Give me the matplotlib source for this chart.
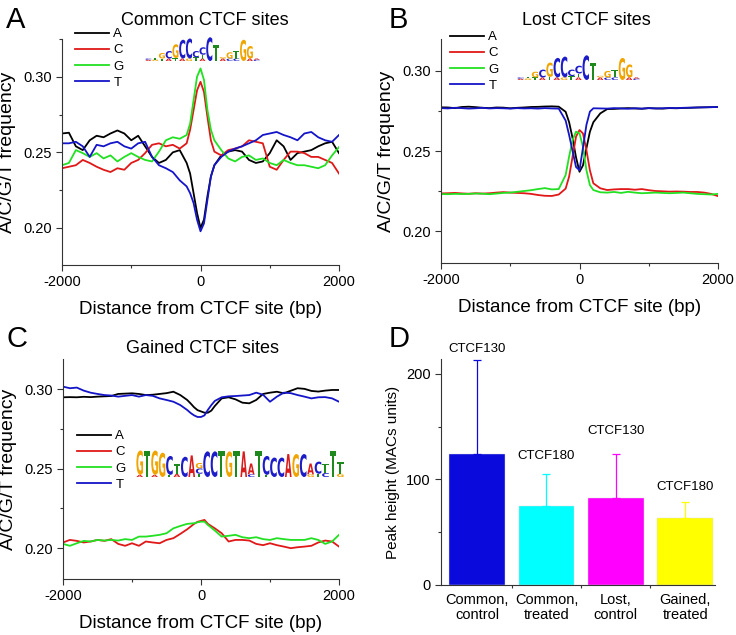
import matplotlib
matplotlib.use("Agg")
import matplotlib.pyplot as plt
from matplotlib.textpath import TextPath
from matplotlib.patches import PathPatch
from matplotlib.font_manager import FontProperties
from matplotlib.transforms import Affine2D
from matplotlib.ticker import MultipleLocator, FixedLocator

plt.rcParams['font.family'] = ['Liberation Sans', 'DejaVu Sans']
plt.rcParams['axes.unicode_minus'] = False

# distance from CTCF site (bp)
dist = [-2000, -1900, -1800, -1700, -1600, -1500, -1400, -1300, -1200, -1100,
        -1000, -900, -800, -700, -600, -500, -400, -300, -200, -150, -100, -50,
        0, 50, 100, 150, 200, 300, 400, 500, 600, 700, 800, 900, 1000, 1100,
        1200, 1300, 1400, 1500, 1600, 1700, 1800, 1900, 2000]

# panel A - common sites
common_A = [.2625, .263, .254, .2515, .258, .261, .260, .2625, .2645, .2625,
            .258, .261, .254, .247, .243, .245, .250, .2515, .243, .236, .223, .210,
            .200, .2055, .221, .234, .2415, .248, .2505, .2515, .2505, .245, .243, .244, .2495, .258,
            .254, .245, .2495, .2505, .2515, .254, .256, .257, .2495]
common_C = [.2395, .2405, .2415, .245, .243, .2405, .2385, .237, .2395, .2385,
            .243, .245, .2495, .255, .256, .254, .255, .2525, .256, .265, .278, .291,
            .2967, .290, .2735, .258, .2505, .248, .2515, .2525, .254, .258, .257, .256, .2405, .2385,
            .245, .2505, .2505, .2495, .247, .247, .245, .243, .236]
common_G = [.2415, .243, .2515, .2495, .247, .2495, .246, .248, .244, .247,
            .2495, .247, .245, .244, .2505, .258, .260, .259, .2615, .269, .2845, .300,
            .3055, .298, .278, .265, .258, .2515, .246, .244, .247, .248, .245, .246, .243, .2415,
            .245, .243, .2415, .2415, .2405, .2395, .2415, .248, .2535]
common_T = [.256, .256, .257, .254, .247, .255, .254, .256, .257, .254,
            .2525, .256, .257, .247, .2415, .2395, .237, .2315, .2275, .223, .2165, .2055,
            .1978, .203, .2185, .234, .2415, .247, .2505, .2525, .254, .256, .258, .2615, .2625, .2635,
            .2615, .260, .258, .2625, .2635, .260, .258, .257, .2615]

# panel B - lost sites
lost_A = [.2773, .2772, .2768, .2775, .2777, .2774, .2770, .2768, .2772, .2771,
          .2767, .2770, .2772, .2775, .2776, .2778, .2779, .2777, .2745, .2680, .2580, .2460,
          .2370, .2410, .2517, .2620, .2680, .2735, .2762, .2763, .2766, .2768, .2766, .2764, .2768, .2766,
          .2765, .2768, .2767, .2769, .2770, .2772, .2773, .2774, .2775]
lost_C = [.2235, .2236, .2238, .2235, .2233, .2236, .2234, .2236, .2240, .2243,
          .2240, .2238, .2236, .2232, .2225, .2220, .2219, .2228, .2265, .2340, .2465, .2590,
          .2631, .2610, .2506, .2380, .2298, .2267, .2256, .2260, .2262, .2262, .2258, .2262, .2255, .2250,
          .2248, .2246, .2247, .2246, .2244, .2244, .2240, .2232, .2218]
lost_G = [.2231, .2230, .2232, .2231, .2232, .2234, .2233, .2230, .2234, .2238,
          .2240, .2245, .2250, .2255, .2262, .2268, .2260, .2262, .2350, .2465, .2569, .2621,
          .2610, .2527, .2380, .2287, .2256, .2242, .2240, .2244, .2238, .2245, .2240, .2236, .2238, .2240,
          .2238, .2236, .2238, .2240, .2236, .2232, .2230, .2228, .2232]
lost_T = [.2768, .2766, .2770, .2768, .2765, .2767, .2770, .2766, .2768, .2767,
          .2765, .2768, .2766, .2767, .2765, .2768, .2766, .2765, .2690, .2600, .2500, .2400,
          .2380, .2520, .2663, .2746, .2767, .2766, .2765, .2768, .2766, .2764, .2767, .2765, .2768, .2766,
          .2767, .2769, .2768, .2770, .2771, .2772, .2773, .2774, .2775]

# panel C - gained sites
gained_A = [.2949, .2950, .2949, .2952, .2950, .2953, .2955, .2957, .2970, .2972,
            .2974, .2970, .2963, .2965, .2970, .2975, .2984, .2963, .2932, .2910, .2886, .2868,
            .2860, .2852, .2852, .2865, .2894, .2942, .2949, .2936, .2915, .2911, .2932, .2970, .2978, .2984,
            .2974, .2990, .3006, .3002, .2989, .2985, .2991, .2995, .2995]
gained_C = [.2035, .2051, .2045, .2035, .2041, .2051, .2045, .2056, .2026, .2014,
            .2030, .2014, .2041, .2035, .2030, .2051, .2062, .2089, .2118, .2135, .2152, .2165,
            .2171, .2177, .2152, .2138, .2124, .2093, .2041, .2051, .2051, .2047, .2026, .2018, .2030, .2018,
            .2009, .1999, .2005, .2009, .2014, .2035, .2047, .2041, .2009]
gained_G = [.2026, .2014, .2030, .2045, .2041, .2051, .2047, .2051, .2047, .2056,
            .2051, .2072, .2072, .2077, .2083, .2093, .2124, .2139, .2152, .2154, .2156, .2162,
            .2166, .2166, .2145, .2128, .2110, .2072, .2077, .2083, .2068, .2062, .2068, .2056, .2051, .2062,
            .2056, .2051, .2051, .2051, .2062, .2051, .2026, .2041, .2083]
gained_T = [.3016, .3006, .3010, .2991, .2978, .2970, .2963, .2960, .2953, .2958,
            .2963, .2953, .2963, .2958, .2942, .2932, .2921, .2900, .2869, .2850, .2835, .2825,
            .2825, .2835, .2870, .2900, .2926, .2949, .2955, .2957, .2960, .2963, .2978, .2965, .2921, .2953,
            .2978, .2975, .2963, .2953, .2942, .2949, .2950, .2942, .2921]

# panel D - peak heights
groups = ['Common,\ncontrol', 'Common,\ntreated', 'Lost,\ncontrol', 'Gained,\ntreated']
peak_height = [124, 75, 82, 63]
peak_err = [89, 30, 42, 16]
antibody = ['CTCF130', 'CTCF180', 'CTCF130', 'CTCF180']

# motif logos: columns of (letter, height) from bottom to top
ctcf_logo = [
    [('A', .05), ('C', .05)], [('G', .06), ('T', .06)], [('T', .1), ('G', .22)],
    [('A', .1), ('C', .3)], [('T', .12), ('G', .55)], [('A', .1), ('C', .75)],
    [('G', .1), ('C', .8)], [('T', .15), ('C', .25)], [('A', .1), ('T', .15), ('C', .3)],
    [('C', .95)], [('T', .65)], [('A', .1), ('G', .06)], [('C', .1), ('G', .25)],
    [('C', .1), ('T', .3)], [('G', .85)], [('A', .1), ('G', .5)], [('C', .05), ('A', .05)]]
gained_logo = [
    [('A', .08), ('G', .9)], [('T', .95)], [('A', .08), ('G', .9)], [('G', .9)],
    [('T', .08), ('C', .7)], [('A', .12), ('T', .35)], [('C', .75)], [('A', .8)],
    [('T', .12), ('C', .2), ('G', .2)], [('C', .95)], [('C', .95)], [('T', .95)],
    [('G', .95)], [('T', .95)], [('A', .95)], [('C', .1), ('A', .4)], [('T', .95)],
    [('T', .08), ('C', .7)], [('C', .72)], [('C', .72)], [('A', .85)], [('G', .85)],
    [('C', .85)], [('G', .1), ('A', .4)], [('T', .12), ('C', .45)], [('C', .15), ('T', .35)],
    [('T', .95)], [('G', .12), ('T', .45)]]

W, H = 736, 635
fig = plt.figure(figsize=(W / 100, H / 100), dpi=100)

line_colors = {'A': '#000000', 'C': '#e01818', 'G': '#22e022', 'T': '#1414c8'}
logo_colors = {'A': '#d81c1c', 'C': '#1c1cc8', 'G': '#f0a400', 'T': '#1e8a1e'}


def px_axes(x0, y0, x1, y1):
    return fig.add_axes([x0 / W, 1 - y1 / H, (x1 - x0) / W, (y1 - y0) / H])


def style(ax):
    for s in ['top', 'right']:
        ax.spines[s].set_visible(False)
    for s in ['left', 'bottom']:
        ax.spines[s].set_linewidth(0.8)
        ax.spines[s].set_color('#333333')
    ax.tick_params(which='major', length=4, width=0.8, labelsize=10.5, color='#333333')
    ax.tick_params(which='minor', length=2.5, width=0.8, color='#333333')


def draw_logo(box, columns):
    ax = px_axes(*box)
    ax.set_xlim(0, len(columns))
    ax.set_ylim(0, 1)
    ax.axis('off')
    fp = FontProperties(family='DejaVu Sans', weight='bold')
    for i, col in enumerate(columns):
        y = 0
        for letter, h in col:
            tp = TextPath((0, 0), letter, size=1, prop=fp)
            bb = tp.get_extents()
            tr = Affine2D().translate(-bb.x0, -bb.y0).scale(0.9 / bb.width, h / bb.height).translate(i + 0.05, y)
            ax.add_patch(PathPatch(tr.transform_path(tp), fc=logo_colors[letter], lw=0))
            y += h


def freq_panel(box, series, ylim, title, title_xy, letter, letter_xy, leg_xy, logo_box, logo):
    ax = px_axes(*box)
    for base, vals in series:
        ax.plot(dist, vals, color=line_colors[base], lw=1.3, label=base)
    ax.set_xlim(-2000, 2000)
    ax.set_ylim(*ylim)
    ax.xaxis.set_major_locator(FixedLocator([-2000, 0, 2000]))
    ax.xaxis.set_minor_locator(FixedLocator([-1000, 1000]))
    ax.yaxis.set_major_locator(FixedLocator([0.20, 0.25, 0.30]))
    ax.yaxis.set_minor_locator(FixedLocator([0.175, 0.225, 0.275, 0.325]))
    ax.set_yticklabels(['0.20', '0.25', '0.30'])
    style(ax)
    ax.set_xlabel('Distance from CTCF site (bp)', fontsize=13.5, labelpad=8)
    ax.set_ylabel('A/C/G/T frequency', fontsize=14, labelpad=5)
    fig.text(title_xy[0] / W, 1 - title_xy[1] / H, title, fontsize=13, ha='center', va='baseline')
    fig.text(letter_xy[0] / W, 1 - letter_xy[1] / H, letter, fontsize=21, ha='left', va='baseline')
    ax.legend(loc='upper left', bbox_to_anchor=(leg_xy[0] / W, 1 - leg_xy[1] / H),
              bbox_transform=fig.transFigure, frameon=False, fontsize=9.5,
              handlelength=2.6, handletextpad=0.3, labelspacing=0.3, borderpad=0, borderaxespad=0)
    draw_logo(logo_box, logo)
    return ax


freq_panel((62, 39, 339, 265),
           [('A', common_A), ('C', common_C), ('G', common_G), ('T', common_T)],
           (0.1755, 0.325), 'Common CTCF sites', (205, 25), 'A', (6, 28), (75, 28),
           (145, 36, 260, 61), ctcf_logo)
freq_panel((441, 39, 718, 263),
           [('A', lost_A), ('C', lost_C), ('G', lost_G), ('T', lost_T)],
           (0.18, 0.32), 'Lost CTCF sites', (586, 25), 'B', (389, 28), (450, 31),
           (517, 54, 640, 80), ctcf_logo)
freq_panel((63, 359, 339, 579),
           [('A', gained_A), ('C', gained_C), ('G', gained_G), ('T', gained_T)],
           (0.1805, 0.319), 'Gained CTCF sites', (202, 353), 'C', (6, 347), (77, 430),
           (136, 450, 344, 477), gained_logo)

# panel D
axd = px_axes(441, 359, 715, 585)
bar_colors = ['#0a0adc', '#00ffff', '#ff00ff', '#ffff00']
pos = range(len(groups))
axd.bar(pos, peak_height, width=0.8, color=bar_colors, edgecolor='#dddddd', linewidth=0.3)
for i in pos:
    axd.errorbar(i, peak_height[i], yerr=[[0], [peak_err[i]]], color=bar_colors[i],
                 elinewidth=0.9, capsize=3, capthick=0.9)
label_y = [223, 122, 146, 93]
for i in pos:
    axd.text(i, label_y[i], antibody[i], ha='center', va='center', fontsize=9.5, clip_on=False)
axd.set_xlim(-0.52, 3.43)
axd.set_ylim(0, 214)
axd.set_xticks(list(pos))
axd.set_xticklabels(groups, fontsize=12, linespacing=1.1)
axd.xaxis.set_minor_locator(FixedLocator([0.5, 1.5, 2.5]))
axd.yaxis.set_major_locator(MultipleLocator(100))
axd.yaxis.set_minor_locator(MultipleLocator(50))
style(axd)
axd.tick_params(axis='x', which='major', length=0, pad=6)
axd.set_ylabel('Peak height (MACs units)', fontsize=11, labelpad=4)
fig.text(389 / W, 1 - 347 / H, 'D', fontsize=21, ha='left', va='baseline')

fig.savefig('out.png', dpi=100)
